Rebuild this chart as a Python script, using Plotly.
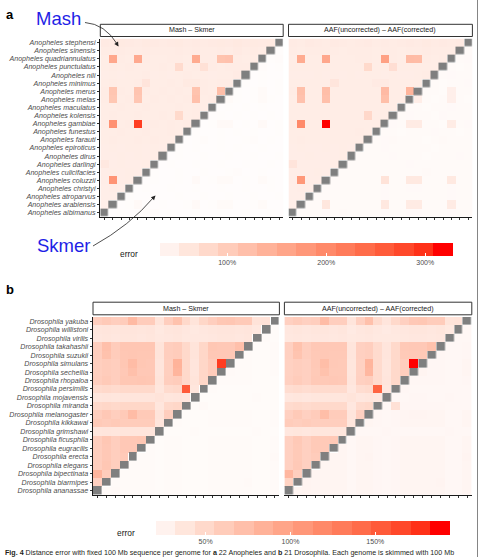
import plotly.graph_objects as go

W, H = 481, 557

# ---------------- data ----------------
anopheles = ["albimanus", "arabiensis", "atroparvus", "christyi", "coluzzii", "culicifacies",
             "darlingi", "dirus", "epiroticus", "farauti", "funestus", "gambiae", "kolensis",
             "maculatus", "melas", "merus", "minimus", "nili", "punctulatus",
             "quadriannulatus", "sinensis", "stephensi"]

drosophila = ["ananassae", "biarmipes", "bipectinata", "elegans", "erecta", "eugracilis",
              "ficusphila", "grimshawi", "kikkawai", "melanogaster", "miranda", "mojavensis",
              "persimilis", "rhopaloa", "sechellia", "simulans", "suzukii", "takahashii",
              "virilis", "willistoni", "yakuba"]

N = None
# rows listed top (last species) to bottom (first species); % error
# upper-left triangle = Mash, lower-right = Skmer
anopheles_mash_skmer = [
    [46,45,47,46,45,47,46,45,46,47,45,46,45,46,47,46,48,46,47,46,47,N],
    [44,43,45,44,44,45,43,44,44,45,43,45,44,43,45,44,46,44,45,44,N,17],
    [42,156,43,42,152,43,42,42,43,44,42,150,43,43,112,114,44,42,44,N,17,18],
    [42,43,42,43,42,42,42,43,42,72,42,43,62,43,42,43,43,43,N,18,16,17],
    [41,42,41,42,42,43,41,42,41,42,43,42,42,41,42,42,45,N,16,17,16,16],
    [42,43,42,42,43,56,42,42,43,42,47,47,43,42,43,43,N,17,16,17,16,17],
    [43,108,43,42,110,43,42,43,42,43,42,112,43,42,120,N,17,16,17,20,16,17],
    [43,105,42,43,106,42,43,42,43,42,43,116,42,43,N,20,17,16,17,20,17,16],
    [42,42,43,42,42,43,42,42,42,43,42,43,42,N,16,17,16,17,16,17,16,16],
    [42,43,42,42,43,42,42,43,42,74,42,43,N,16,17,16,17,16,17,16,17,16],
    [43,190,42,43,296,42,43,42,43,42,43,N,16,17,22,22,16,17,16,22,16,17],
    [42,42,43,42,42,43,42,42,43,42,N,17,16,16,17,16,17,16,17,16,16,17],
    [42,43,42,42,43,42,43,42,42,N,16,17,18,16,17,16,16,17,18,16,17,16],
    [41,42,41,42,42,41,42,41,N,17,16,17,16,16,17,16,17,16,16,17,16,16],
    [41,41,42,41,42,41,42,N,16,17,16,16,17,16,16,17,16,16,17,16,16,17],
    [50,41,42,41,41,42,N,16,17,16,16,17,16,16,17,16,16,17,16,16,17,16],
    [41,42,41,42,41,N,17,16,16,17,16,16,17,16,16,17,18,16,16,17,16,16],
    [41,186,41,42,N,16,17,16,16,17,16,22,16,17,20,20,16,17,16,20,17,16],
    [40,41,40,N,16,17,16,16,17,16,16,17,16,16,17,16,16,17,16,16,17,16],
    [40,40,N,17,16,16,17,16,16,17,16,16,17,16,16,17,16,16,17,16,16,17],
    [39,N,16,17,22,16,16,17,16,16,17,22,16,17,20,20,16,16,17,20,16,16],
    [N,16,17,16,16,17,18,16,17,16,16,17,16,16,17,16,16,17,16,16,17,16],
]

# upper-left = AAF(uncorrected), lower-right = AAF(corrected)
anopheles_aaf = [
    [45,44,46,45,44,46,45,44,45,46,44,45,44,45,46,45,47,45,46,45,46,N],
    [43,42,44,43,43,44,42,43,43,44,42,44,43,42,44,43,45,43,44,43,N,20],
    [42,150,42,42,155,42,42,42,43,43,42,166,43,42,124,122,43,42,43,N,20,21],
    [42,42,42,42,42,42,42,42,42,74,42,42,66,42,42,42,42,42,N,20,19,20],
    [41,41,41,42,41,42,41,42,41,42,42,41,42,41,41,42,44,N,20,21,20,20],
    [42,42,42,42,42,54,42,42,42,42,46,46,42,42,42,42,N,20,19,20,20,21],
    [43,118,42,42,120,42,42,42,42,42,42,125,42,42,136,N,20,20,19,38,20,20],
    [42,114,42,42,116,42,42,42,42,42,42,118,42,42,N,40,20,19,20,38,20,19],
    [42,42,42,42,42,42,42,42,42,42,42,42,42,N,20,20,19,20,20,21,20,20],
    [42,42,42,42,42,42,42,42,42,76,42,42,N,20,21,20,20,19,21,20,20,20],
    [43,200,42,42,328,42,42,42,42,42,42,N,21,20,45,45,20,20,19,44,20,21],
    [42,42,42,42,42,42,42,42,43,42,N,20,20,19,20,20,20,21,20,20,19,20],
    [42,43,42,42,42,42,42,42,42,N,20,21,22,20,20,20,19,20,22,20,20,20],
    [41,42,41,41,42,41,42,41,N,20,20,21,20,20,20,20,20,19,20,20,20,20],
    [41,41,42,41,41,41,42,N,20,20,20,20,21,20,20,20,19,20,20,20,21,20],
    [56,41,41,41,41,42,N,20,20,20,20,20,20,20,21,20,20,20,20,20,20,20],
    [41,41,41,42,41,N,20,20,20,20,20,20,20,20,20,20,22,20,20,20,20,20],
    [41,180,41,41,N,20,20,20,20,20,20,58,20,20,48,48,20,20,20,48,20,20],
    [40,41,40,N,20,20,20,20,20,20,20,21,20,20,21,21,20,20,20,21,20,20],
    [40,40,N,20,20,20,20,20,20,20,20,21,20,20,20,20,20,20,20,21,20,20],
    [39,N,20,20,52,20,20,20,20,20,20,50,20,20,45,45,20,20,20,45,20,20],
    [N,20,20,20,21,20,22,20,20,20,20,21,20,20,21,21,20,20,20,21,20,20],
]

drosophila_mash_skmer = [
    [56,60,56,58,76,58,58,35,56,68,46,35,48,56,63,64,60,60,36,37,N],
    [33,34,33,34,34,33,34,30,33,34,32,30,32,33,34,34,33,34,31,N,13],
    [32,33,32,33,33,32,33,31,32,33,31,31,31,32,33,33,32,33,N,14,13],
    [56,70,58,64,64,64,64,35,56,58,46,35,48,63,62,62,70,N,13,13,14],
    [56,68,58,63,64,63,63,35,56,58,46,35,48,62,62,62,N,14,13,13,14],
    [55,58,56,63,74,63,62,34,55,82,46,34,48,58,176,N,14,14,13,13,14],
    [55,58,56,62,70,62,62,34,55,80,46,34,48,58,N,15,14,14,13,13,14],
    [56,60,56,63,63,64,63,35,56,58,46,35,48,N,14,14,14,14,13,13,13],
    [44,46,44,46,46,46,46,33,44,46,157,33,N,14,13,13,13,13,13,13,13],
    [33,34,33,34,34,34,34,36,33,34,32,N,13,13,13,13,13,13,14,13,13],
    [46,48,46,48,48,48,48,33,46,48,N,13,15,13,13,13,13,13,13,13,13],
    [56,62,56,60,74,60,60,35,56,N,13,13,13,14,14,14,14,14,13,13,14],
    [60,58,60,58,58,58,58,34,N,14,13,13,13,14,14,14,14,14,13,13,14],
    [33,34,33,34,34,34,34,N,13,13,13,14,13,13,13,13,13,13,14,13,13],
    [56,63,56,62,62,63,N,13,14,14,13,13,13,14,14,14,14,14,13,13,14],
    [56,62,56,62,62,N,14,13,14,14,13,13,13,14,14,14,14,14,13,13,14],
    [56,62,56,60,N,14,14,13,14,14,13,13,13,14,14,14,14,14,13,13,15],
    [56,63,56,N,14,14,14,13,14,14,13,13,13,14,14,14,14,14,13,13,14],
    [80,58,N,14,14,14,14,13,14,14,13,13,13,14,14,14,14,14,13,13,14],
    [54,N,14,14,14,14,14,13,14,14,13,13,13,14,14,14,14,15,13,13,14],
    [N,14,15,14,14,14,14,13,14,14,13,13,13,14,14,14,14,14,13,13,14],
]

drosophila_aaf = [
    [54,58,54,56,74,56,56,34,54,70,44,34,46,54,62,63,58,58,35,36,N],
    [32,33,32,33,33,32,33,29,32,33,31,29,31,32,33,33,32,33,30,N,16],
    [31,32,31,32,32,31,32,30,31,32,30,30,30,31,32,32,31,32,N,16,16],
    [54,68,56,62,62,62,62,34,54,56,44,34,46,61,62,62,68,N,16,16,17],
    [54,66,56,61,62,61,61,34,54,56,44,34,46,60,61,61,N,17,16,16,17],
    [53,56,54,61,72,61,60,33,53,80,44,33,46,56,194,N,17,17,16,16,18],
    [53,56,54,60,68,60,60,33,53,78,44,33,46,56,N,19,17,17,16,16,18],
    [54,58,54,61,61,62,61,34,54,56,44,34,46,N,17,17,17,17,16,16,17],
    [42,44,42,44,44,44,44,32,42,44,150,32,N,17,16,16,16,16,16,16,16],
    [32,33,32,33,33,33,33,35,32,33,31,N,16,16,17,17,16,16,17,16,16],
    [44,46,44,46,46,46,46,32,44,46,N,16,38,17,17,17,17,17,16,16,16],
    [54,60,54,58,72,58,58,34,54,N,17,16,17,18,19,19,18,18,16,16,18],
    [58,56,58,56,56,56,56,33,N,18,17,16,17,18,18,18,18,18,16,16,18],
    [32,33,32,33,33,33,33,N,16,16,16,17,16,16,16,16,16,16,17,16,16],
    [54,61,54,60,60,61,N,16,18,18,17,16,17,18,18,18,18,18,16,16,18],
    [54,60,54,60,60,N,18,16,18,18,17,16,17,18,18,18,18,18,16,16,18],
    [54,60,54,58,N,18,18,16,18,19,17,16,17,18,18,18,18,18,16,16,19],
    [54,61,54,N,18,18,18,16,18,18,17,16,17,18,18,18,18,18,16,16,18],
    [78,56,N,18,18,18,18,16,18,18,17,16,17,18,18,18,18,18,16,16,18],
    [52,N,19,18,18,18,18,16,18,18,17,16,17,18,18,18,18,19,16,16,18],
    [N,18,19,18,18,18,18,16,18,18,17,16,17,18,18,18,18,18,16,16,18],
]

panel_titles = ["Mash \u2013 Skmer", "AAF(uncorrected) \u2013 AAF(corrected)"]
range_a = [12, 328]
range_b = [9, 194]
ticks_a = [100, 200, 300]
ticks_b = [50, 100, 150]

# ---------------- colours (white -> red, interpolated in CIELAB) ----------------
def lab_to_hex(L, a, b):
    fy = (L + 16) / 116.0
    fx = fy + a / 500.0
    fz = fy - b / 200.0
    def finv(t):
        return t ** 3 if t ** 3 > 0.008856 else (t - 16 / 116.0) / 7.787
    X_, Y_, Z_ = 0.95047 * finv(fx), 1.0 * finv(fy), 1.08883 * finv(fz)
    r = 3.2406 * X_ - 1.5372 * Y_ - 0.4986 * Z_
    g = -0.9689 * X_ + 1.8758 * Y_ + 0.0415 * Z_
    bb = 0.0557 * X_ - 0.2040 * Y_ + 1.0570 * Z_
    def gam(v):
        v = 12.92 * v if v <= 0.0031308 else 1.055 * v ** (1 / 2.4) - 0.055
        return int(round(min(1, max(0, v)) * 255))
    return "#%02x%02x%02x" % (gam(r), gam(g), gam(bb))

WHITE_LAB = (100.0, 0.0, 0.0)
RED_LAB = (53.2408, 80.0925, 67.2032)

def ramp(t):
    return lab_to_hex(*[w + (r - w) * t for w, r in zip(WHITE_LAB, RED_LAB)])

cont_scale = [[i / 20, ramp(i / 20)] for i in range(21)]
NSTEP = 16
step_scale = []
for i in range(NSTEP):
    c = ramp(i / (NSTEP - 1))
    step_scale.append([i / NSTEP, c])
    step_scale.append([(i + 1) / NSTEP, c])

# ---------------- helpers ----------------
def X(x):
    return x / W

def Y(y):
    return 1 - y / H

FONT = "Liberation Sans, Arial, Helvetica, sans-serif"
fig = go.Figure()

panels = [
    (anopheles_mash_skmer, anopheles, (100.3, 283.2), (38.6, 216.8), range_a, "", True),
    (anopheles_aaf, anopheles, (288.5, 472.4), (38.6, 216.8), range_a, "2", False),
    (drosophila_mash_skmer, drosophila, (93.0, 279.4), (317.0, 494.8), range_b, "3", True),
    (drosophila_aaf, drosophila, (284.4, 471.8), (317.0, 494.8), range_b, "4", False),
]

layout_axes = {}
for rows, names, (x0, x1), (y0, y1), zr, sfx, showy in panels:
    n = len(names)
    z = rows[::-1]
    diag = [[1 if v is None else None for v in row] for row in z]
    idx = list(range(n))
    xa, ya = "x" + sfx, "y" + sfx
    fig.add_trace(go.Heatmap(z=z, x=idx, y=idx, colorscale=cont_scale, zmin=zr[0], zmax=zr[1],
                             showscale=False, xaxis=xa, yaxis=ya, hoverinfo="skip"))
    fig.add_trace(go.Heatmap(z=diag, x=idx, y=idx, colorscale=[[0, "#7f7f7f"], [1, "#7f7f7f"]],
                             showscale=False, xaxis=xa, yaxis=ya, hoverinfo="skip",
                             xgap=0.4, ygap=0.4))
    genus = "Anopheles" if names is anopheles else "Drosophila"
    layout_axes["xaxis" + sfx] = dict(
        domain=[X(x0), X(x1)], range=[-0.5, n - 0.5], anchor=ya,
        showgrid=False, zeroline=False, showline=True, linecolor="#1a1a1a", linewidth=0.8,
        ticks="outside", ticklen=2.5, tickwidth=0.6, tickcolor="#333333",
        tickvals=idx, showticklabels=False, fixedrange=True)
    layout_axes["yaxis" + sfx] = dict(
        domain=[Y(y1), Y(y0)], range=[-0.5, n - 0.5], anchor=xa,
        showgrid=False, zeroline=False,
        showline=showy, linecolor="#1a1a1a", linewidth=0.8,
        ticks="outside" if showy else "", ticklen=2.5, tickwidth=0.6, tickcolor="#333333",
        tickvals=idx, ticktext=["<i>%s %s</i>" % (genus, s) for s in names],
        showticklabels=showy, tickfont=dict(size=7.1, color="#4d4d4d", family=FONT),
        fixedrange=True)

# hidden axes carrying the two stepped colour bars
layout_axes["xaxis5"] = dict(domain=[0, 0.01], range=[0, 1], visible=False)
layout_axes["yaxis5"] = dict(domain=[0, 0.01], range=[0, 1], visible=False, anchor="x5")

def cbar_trace(zr, tv, x0, x1, ytop, thick):
    return go.Scatter(
        x=[5, 5], y=[5, 5], mode="markers", xaxis="x5", yaxis="y5", hoverinfo="skip",
        marker=dict(color=zr, cmin=zr[0], cmax=zr[1], colorscale=step_scale, showscale=True,
                    colorbar=dict(orientation="h", x=X(x0), xanchor="left", y=Y(ytop),
                                  yanchor="top", len=(x1 - x0) / W, lenmode="fraction",
                                  thickness=thick, thicknessmode="pixels", xpad=0, ypad=0,
                                  outlinewidth=0, tickvals=tv,
                                  ticktext=["%d%%" % v for v in tv],
                                  ticks="inside", ticklen=3, tickwidth=0.6, tickcolor="white",
                                  tickfont=dict(size=7, color="#4d4d4d", family=FONT))))

fig.add_trace(cbar_trace(range_a, ticks_a, 140, 452.7, 243.3, 12.7))
fig.add_trace(cbar_trace(range_b, ticks_b, 136, 450, 521.2, 13.8))

shapes = []
annotations = []
# strips
for (x0, x1), (ys0, ys1), title in [((100.3, 283.2), (24.3, 36.5), panel_titles[0]),
                                     ((288.5, 472.4), (24.3, 36.5), panel_titles[1]),
                                     ((93.0, 279.4), (302.2, 314.8), panel_titles[0]),
                                     ((284.4, 471.8), (302.2, 314.8), panel_titles[1])]:
    shapes.append(dict(type="rect", xref="paper", yref="paper", x0=X(x0), x1=X(x1),
                       y0=Y(ys1), y1=Y(ys0), fillcolor="white",
                       line=dict(color="#333333", width=1)))
    annotations.append(dict(text=title, x=X((x0 + x1) / 2), y=Y((ys0 + ys1) / 2),
                            xref="paper", yref="paper", showarrow=False,
                            font=dict(size=7.1, color="#1a1a1a", family=FONT),
                            xanchor="center", yanchor="middle"))

def path(p0, c, p1):
    return "M %f,%f Q %f,%f %f,%f" % (X(p0[0]), Y(p0[1]), X(c[0]), Y(c[1]), X(p1[0]), Y(p1[1]))

shapes.append(dict(type="path", xref="paper", yref="paper",
                   path=path((85, 22.5), (105, 24), (117.5, 44.5)),
                   line=dict(color="#222222", width=0.8)))
shapes.append(dict(type="path", xref="paper", yref="paper",
                   path=path((93, 246), (130, 225.5), (154, 197)),
                   line=dict(color="#222222", width=0.8)))
# arrow heads
annotations.append(dict(x=X(118.5), y=Y(46.5), xref="paper", yref="paper", text="",
                        showarrow=True, ax=-3.2, ay=-5.2, arrowhead=2, arrowsize=1.1,
                        arrowwidth=0.8, arrowcolor="#222222", standoff=0))
annotations.append(dict(x=X(155.5), y=Y(195.5), xref="paper", yref="paper", text="",
                        showarrow=True, ax=-4.3, ay=4.5, arrowhead=2, arrowsize=1.1,
                        arrowwidth=0.8, arrowcolor="#222222", standoff=0))

# right border line of the page
shapes.append(dict(type="line", xref="paper", yref="paper", x0=X(477.5), x1=X(477.5),
                   y0=0, y1=1, line=dict(color="#666666", width=0.8)))

def txt(t, x, y, size, color="#000000", xanchor="left", yanchor="middle"):
    annotations.append(dict(text=t, x=X(x), y=Y(y), xref="paper", yref="paper",
                            showarrow=False, xanchor=xanchor, yanchor=yanchor,
                            font=dict(size=size, color=color, family=FONT)))

txt("<b>a</b>", 4.3, 14.5, 13)
txt("<b>b</b>", 4.3, 289.5, 13)
txt("Mash", 34, 18.3, 18.5, color="#1f1fe6")
txt("Skmer", 34.5, 245.3, 18.5, color="#1f1fe6")
txt("error", 117.5, 254.5, 8.4, color="#1a1a1a")
txt("error", 114.5, 533, 8.4, color="#1a1a1a")
txt("<b>Fig. 4</b> Distance error with fixed 100 Mb sequence per genome for <b>a</b> 22 Anopheles "
    "and <b>b</b> 21 Drosophila. Each genome is skimmed with 100 Mb", 2.5, 552.5, 7.13,
    color="#231f20")

fig.update_layout(width=W, height=H, margin=dict(l=0, r=0, t=0, b=0),
                  paper_bgcolor="white", plot_bgcolor="white", showlegend=False,
                  font=dict(family=FONT), shapes=shapes, annotations=annotations,
                  **layout_axes)

fig.write_html("out.html")
